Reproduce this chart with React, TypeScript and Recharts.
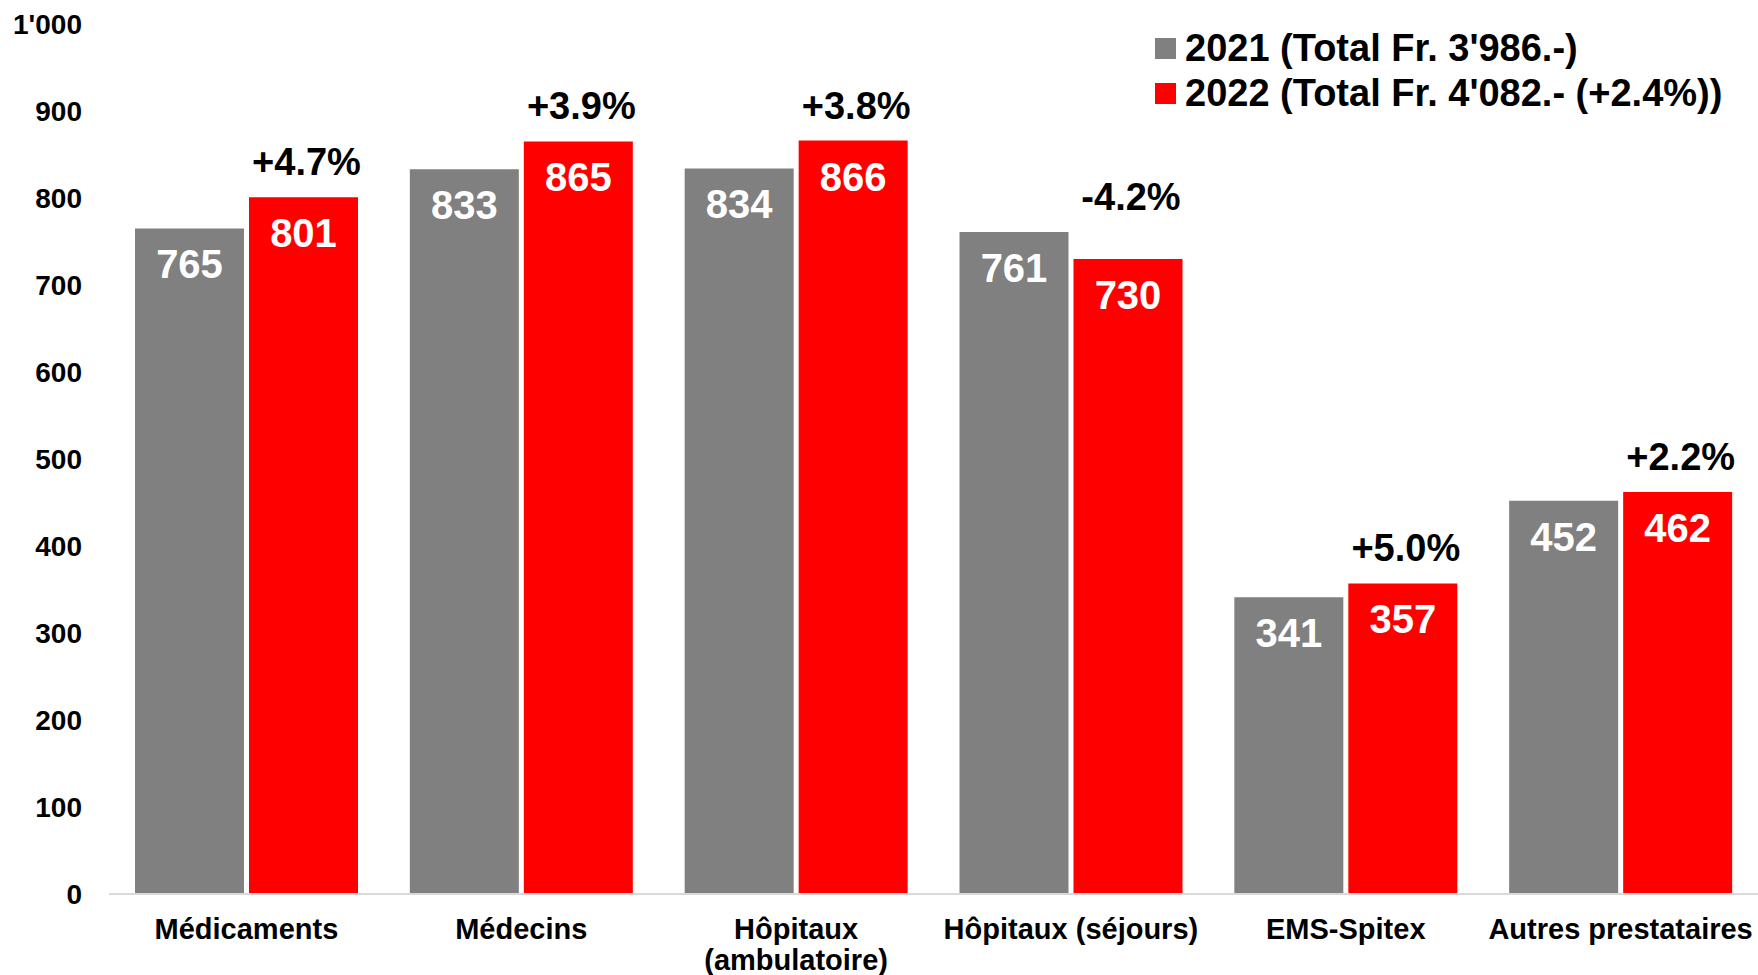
import React from 'react';
import { BarChart, Bar, XAxis, YAxis, LabelList } from 'recharts';

const categories = [
  'Médicaments',
  'Médecins',
  'Hôpitaux\n(ambulatoire)',
  'Hôpitaux (séjours)',
  'EMS-Spitex',
  'Autres prestataires',
];
const values2021 = [765, 833, 834, 761, 341, 452];
const values2022 = [801, 865, 866, 730, 357, 462];
const changeLabels = ['+4.7%', '+3.9%', '+3.8%', '-4.2%', '+5.0%', '+2.2%'];
const seriesNames = ["2021 (Total Fr. 3'986.-)", "2022 (Total Fr. 4'082.- (+2.4%))"];
const yTicks = [0, 100, 200, 300, 400, 500, 600, 700, 800, 900, 1000];

const COLORS = ['#808080', '#ff0000'];
const FONT = '"Liberation Sans", Arial, sans-serif';

const data = categories.map((name, i) => ({
  name,
  y2021: values2021[i],
  y2022: values2022[i],
  change: changeLabels[i],
}));

const formatTick = (v: number) => (v >= 1000 ? `${Math.floor(v / 1000)}'${String(v % 1000).padStart(3, '0')}` : String(v));

function XTick(props: any) {
  const { x, y, payload } = props;
  const lines = String(payload.value).split('\n');
  return (
    <text x={x} y={y + 45} textAnchor="middle" fontSize={29} fontWeight={700} fill="#000" fontFamily={FONT}>
      {lines.map((l, i) => (
        <tspan key={i} x={x} dy={i === 0 ? 0 : 31}>
          {l}
        </tspan>
      ))}
    </text>
  );
}

function ValueLabel(props: any) {
  const { x, y, width, value } = props;
  return (
    <text
      x={x + width / 2}
      y={y + 36}
      textAnchor="middle"
      dominantBaseline="central"
      fontSize={40}
      fontWeight={700}
      fill="#fff"
      fontFamily={FONT}
    >
      {value}
    </text>
  );
}

// change label sits above the taller of the two bars of a group
function ChangeLabel(props: any) {
  const { x, y, width, height, index, value } = props;
  const scale = height / values2022[index];
  const base = y + height;
  const top = base - Math.max(values2021[index], values2022[index]) * scale;
  return (
    <text
      x={x + width / 2 + 3}
      y={top - 35}
      textAnchor="middle"
      dominantBaseline="central"
      fontSize={38}
      fontWeight={700}
      fill="#000"
      fontFamily={FONT}
    >
      {value}
    </text>
  );
}

export default function App() {
  return (
    <div style={{ position: 'absolute', left: 0, top: 0, width: 1758, height: 975, background: '#fff', fontFamily: FONT }}>
      <BarChart
        width={1758}
        height={975}
        data={data}
        margin={{ top: 24, right: 0, bottom: 0, left: 0 }}
        barCategoryGap={26}
        barGap={5}
      >
        <XAxis
          dataKey="name"
          height={81}
          interval={0}
          tickLine={false}
          tickSize={0}
          tickMargin={0}
          axisLine={{ stroke: '#d9d9d9', strokeWidth: 2 }}
          tick={<XTick />}
        />
        <YAxis
          width={109}
          domain={[0, 1000]}
          ticks={yTicks}
          interval={0}
          tickLine={false}
          axisLine={false}
          tickSize={0}
          tickMargin={27}
          tickFormatter={formatTick}
          tick={{ fill: '#000', fontSize: 28, fontWeight: 700, fontFamily: FONT }}
        />
        <Bar dataKey="y2021" name={seriesNames[0]} fill={COLORS[0]} isAnimationActive={false}>
          <LabelList dataKey="y2021" content={<ValueLabel />} />
        </Bar>
        <Bar dataKey="y2022" name={seriesNames[1]} fill={COLORS[1]} isAnimationActive={false}>
          <LabelList dataKey="y2022" content={<ValueLabel />} />
          <LabelList dataKey="change" content={<ChangeLabel />} />
        </Bar>
      </BarChart>
      <div style={{ position: 'absolute', left: 1155, top: 26 }}>
        {seriesNames.map((n, i) => (
          <div key={n} style={{ display: 'flex', alignItems: 'center', height: 45 }}>
            <div style={{ width: 21, height: 21, background: COLORS[i], marginRight: 9 }} />
            <span style={{ fontSize: 38, fontWeight: 700, color: '#000', whiteSpace: 'nowrap' }}>{n}</span>
          </div>
        ))}
      </div>
    </div>
  );
}
